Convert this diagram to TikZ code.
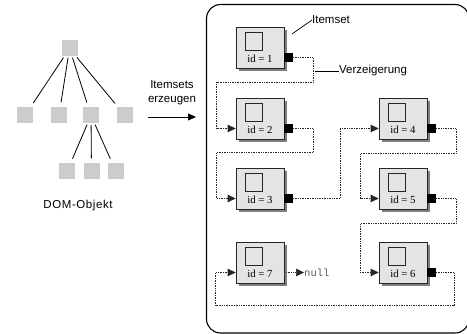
\documentclass[tikz,border=0pt]{standalone}
\usepackage{fontspec}
\setmainfont{Liberation Sans}
\newfontfamily\idfont{Liberation Serif}
\newfontfamily\codefont{Liberation Mono}
\usetikzlibrary{arrows.meta,calc}

\definecolor{boxfill}{RGB}{228,228,228}
\definecolor{treefill}{RGB}{204,204,204}
\definecolor{shadowgray}{RGB}{128,128,128}

\tikzset{
  treenode/.style={fill=treefill, minimum size=16pt, inner sep=0pt},
  treeedge/.style={line width=0.8pt, shorten <=1pt, shorten >=5pt},
  setbox/.style={draw=black!85, line width=0.7pt, fill=boxfill,
    minimum width=48pt, minimum height=41pt, inner sep=0pt},
  setshadow/.style={fill=shadowgray, minimum width=48pt, minimum height=41pt, inner sep=0pt},
  innersq/.style={draw=black!85, line width=0.7pt, fill=boxfill, minimum width=17pt,
    minimum height=18pt, inner sep=0pt},
  idlabel/.style={font=\idfont\fontsize{10.8}{12}\selectfont, inner sep=0pt},
  outsq/.style={fill=black, minimum size=8.5pt, inner sep=0pt},
  link/.style={densely dotted, line width=0.7pt, black!85},
  linkhead/.style={-{Triangle[length=8pt,width=7.5pt]}},
  lbltext/.style={font=\fontsize{11.5}{14}\selectfont, inner sep=0pt},
  leader/.style={line width=0.7pt}
}

% one item set: name, centre, number
\newcommand\itemsetbox[3]{%
  \node[setshadow] at ($(#2)+(3,3)$) {};
  \node[setbox] (#1) at (#2) {};
  \node[innersq] at ($(#1.center)+(-6.5,-6.5)$) {};
  \node[idlabel] at ($(#1.center)+(0,11.5)$) {id = #3};
  \coordinate (#1in) at ([yshift=-10pt]#1.west);
}

\begin{document}
\begin{tikzpicture}[x=1pt, y=-1pt]
\useasboundingbox (0,0) rectangle (467,334);

% ---- DOM tree ----
\node[treenode] (root) at (69.5,48.5) {};
\node[treenode] (c1) at (25,115.5) {};
\node[treenode] (c2) at (59,115.5) {};
\node[treenode] (c3) at (91,115.5) {};
\node[treenode] (c4) at (125,115.5) {};
\node[treenode] (d1) at (67,171.5) {};
\node[treenode] (d2) at (91.5,171.5) {};
\node[treenode] (d3) at (116,171.5) {};
\foreach \c in {c1,c2,c3,c4} \draw[treeedge] (root) -- (\c);
\foreach \d in {d1,d2,d3} \draw[treeedge] (c3) -- (\d);
\node[lbltext, font=\addfontfeatures{LetterSpace=5}\fontsize{11.5}{14}\selectfont] (dom) at (78,206) {DOM-Objekt};

% ---- transformation arrow ----
\node[lbltext, align=center] (make) at (172,93) {Itemsets\\erzeugen};
\coordinate (arrS) at (148,117);
\coordinate (arrE) at (196,117);
\draw[line width=0.8pt, -{Triangle[length=8pt,width=7pt]}] (arrS) -- (arrE);

% ---- frame ----
\draw[line width=1.1pt, rounded corners=14pt] (206.5,4.5) rectangle (469,333);

% ---- item sets ----
\itemsetbox{s1}{260,47.5}{1}
\itemsetbox{s2}{260,118.5}{2}
\itemsetbox{s3}{260,188.5}{3}
\itemsetbox{s7}{260,262.5}{7}
\itemsetbox{s4}{403,118.5}{4}
\itemsetbox{s5}{403,188.5}{5}
\itemsetbox{s6}{403,262.5}{6}
\foreach \s in {s1,s2,s3,s4,s5,s6}
  \node[outsq] (\s out) at ([xshift=4.25pt,yshift=-10pt]\s.east) {};

% ---- pointers ----
\draw[link, linkhead] (s1out.east) -- ++(20,0) -- ++(0,25) -| ([xshift=-19pt]s2in) -- (s2in);
\draw[link, linkhead] (s2out.east) -- ++(20,0) -- ++(0,24) -| ([xshift=-19pt]s3in) -- (s3in);
\draw[link, linkhead] (s3out.east) -- ++(47,0) |- (s4in);
\draw[link, linkhead] (s4out.east) -- ++(20,0) -- ++(0,25) -| ([xshift=-18pt]s5in) -- (s5in);
\draw[link, linkhead] (s5out.east) -- ++(20,0) -- ++(0,25) -| ([xshift=-18pt]s6in) -- (s6in);
\draw[link, linkhead] (s6out.east) -- ++(18,0) -- ++(0,33) -| ([xshift=-20pt]s7in) -- (s7in);
\node[anchor=west, inner sep=0pt, text=black!65, font=\codefont\fontsize{10.5}{12}\selectfont] (null) at (304,272.5) {null};
\draw[link, linkhead] ([yshift=-10pt]s7.east) -- (null.west);

% ---- annotations ----
\node[lbltext, anchor=west] (lblset) at (312,20) {Itemset};
\draw[leader] (292,34) -- (lblset.west);
\node[lbltext, anchor=west] (lblptr) at (339,71) {Verzeigerung};
\draw[leader] ([xshift=-24pt]lblptr.west) -- (lblptr.west);
\end{tikzpicture}
\end{document}
